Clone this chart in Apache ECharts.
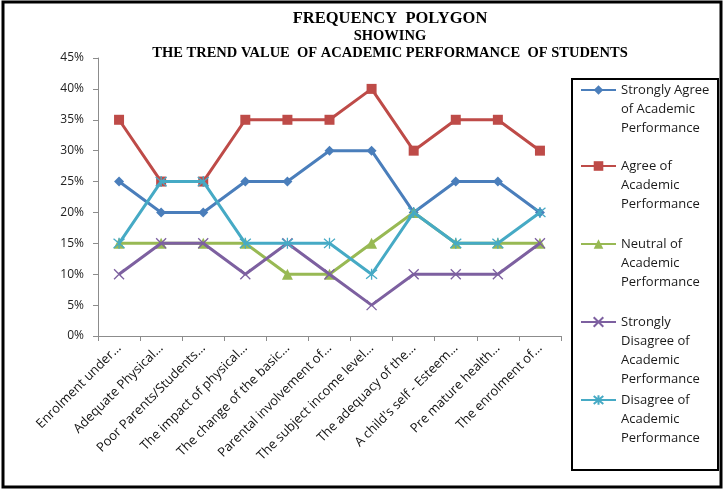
<!DOCTYPE html>
<html>
<head>
<meta charset="utf-8">
<script src="https://cdn.jsdelivr.net/npm/echarts@6/dist/echarts.min.js"></script>
<style>
  html, body { margin: 0; padding: 0; background: #fff; }
  #chart { width: 724px; height: 490px; }
</style>
</head>
<body>
<div id="chart"></div>
<script>
// Survey factors (category axis, truncated as printed)
const categories = [
  'Enrolment under…',
  'Adequate Physical…',
  'Poor Parents/Students…',
  'The impact of physical…',
  'The change of the basic…',
  'Parental involvement of…',
  'The subject income level…',
  'The adequacy of the…',
  'A child\'s self - Esteem…',
  'Pre mature health…',
  'The enrolment of…'
];

// Percentage of respondents per response level
const stronglyAgree    = [25, 20, 20, 25, 25, 30, 30, 20, 25, 25, 20];
const agree            = [35, 25, 25, 35, 35, 35, 40, 30, 35, 35, 30];
const neutral          = [15, 15, 15, 15, 10, 10, 15, 20, 15, 15, 15];
const stronglyDisagree = [10, 15, 15, 10, 15, 10,  5, 10, 10, 10, 15];
const disagree         = [15, 25, 25, 15, 15, 15, 10, 20, 15, 15, 20];

const yTicks = [0, 5, 10, 15, 20, 25, 30, 35, 40, 45];

const seriesNames = [
  'Strongly Agree of Academic Performance',
  'Agree of Academic Performance',
  'Neutral of Academic Performance',
  'Strongly Disagree of Academic Performance',
  'Disagree of Academic Performance'
];
const legendLines = [
  ['Strongly Agree', 'of Academic', 'Performance'],
  ['Agree of', 'Academic', 'Performance'],
  ['Neutral of', 'Academic', 'Performance'],
  ['Strongly', 'Disagree of', 'Academic', 'Performance'],
  ['Disagree of', 'Academic', 'Performance']
];
const seriesValues = [stronglyAgree, agree, neutral, stronglyDisagree, disagree];

const colors = ['#4A7EBB', '#BE4B48', '#98B954', '#7D60A0', '#46AAC5'];
const symbols = [
  'diamond',
  'rect',
  'triangle',
  'path://M0,0L10,10M10,0L0,10',
  'path://M0,0L10,10M10,0L0,10M5,-1L5,11'
];
const symbolSizes = [10, 10, 11, 10, 11];

const LINE_H = 19;
const legendSymbolY = [90, 166, 244, 322, 400];

// One legend per series so the marker sits on the first text line:
// blank lines are prepended so the block is centred on line one.
const legends = seriesNames.map((name, i) => {
  const n = legendLines[i].length;
  const h = (2 * n - 1) * LINE_H;
  return {
    data: [name],
    orient: 'vertical',
    left: 580,
    top: legendSymbolY[i] - h / 2,
    padding: 0,
    itemWidth: 35,
    itemHeight: 12,
    itemGap: 0,
    selectedMode: false,
    formatter: () => '\n'.repeat(n - 1) + legendLines[i].join('\n'),
    textStyle: {
      fontFamily: '"Open Sans", sans-serif',
      fontSize: 13,
      color: '#1a1a1a',
      lineHeight: LINE_H
    }
  };
});

const series = seriesNames.map((name, i) => ({
  name: name,
  type: 'line',
  data: seriesValues[i],
  symbol: symbols[i],
  symbolSize: symbolSizes[i],
  lineStyle: { width: 3, color: colors[i] },
  itemStyle: {
    color: colors[i],
    borderColor: colors[i],
    borderWidth: i >= 3 ? 1.3 : 0
  },
  z: 2 + i
}));

const chart = echarts.init(document.getElementById('chart'), null, { renderer: 'canvas' });
chart.setOption({
  animation: false,
  color: colors,
  title: {
    text: '{a|FREQUENCY  POLYGON}\n{b|SHOWING}\n{b|THE TREND VALUE  OF ACADEMIC PERFORMANCE  OF STUDENTS}',
    left: 385,
    top: 5,
    textAlign: 'center',
    textStyle: {
      fontFamily: '"Liberation Serif", "Times New Roman", serif',
      fontWeight: 'bold',
      color: '#000',
      rich: {
        a: {
          fontFamily: '"Liberation Serif", "Times New Roman", serif',
          fontWeight: 'bold', fontSize: 16.5, lineHeight: 18, color: '#000', align: 'center'
        },
        b: {
          fontFamily: '"Liberation Serif", "Times New Roman", serif',
          fontWeight: 'bold', fontSize: 14.5, lineHeight: 16.5, color: '#000', align: 'center'
        }
      }
    }
  },
  legend: legends,
  grid: { left: 98, right: 163, top: 58, bottom: 154 },
  xAxis: {
    type: 'category',
    data: categories,
    boundaryGap: true,
    axisLine: { lineStyle: { color: '#8C8C8C', width: 1 } },
    axisTick: { show: true, length: 5, lineStyle: { color: '#8C8C8C' } },
    axisLabel: {
      interval: 0,
      rotate: 45,
      margin: 10,
      fontFamily: '"Open Sans", sans-serif',
      fontSize: 13,
      color: '#111'
    },
    splitLine: { show: false }
  },
  yAxis: {
    type: 'value',
    min: yTicks[0],
    max: yTicks[yTicks.length - 1],
    interval: 5,
    axisLine: { show: true, lineStyle: { color: '#8C8C8C', width: 1 } },
    axisTick: { show: true, length: 5, lineStyle: { color: '#8C8C8C' } },
    axisLabel: {
      formatter: '{value}%',
      margin: 14,
      fontFamily: '"Open Sans", sans-serif',
      fontSize: 12,
      color: '#222'
    },
    splitLine: { show: false }
  },
  graphic: [
    {
      type: 'rect',
      shape: { x: 3, y: 2, width: 718, height: 485 },
      style: { fill: 'none', stroke: '#000', lineWidth: 3 },
      silent: true
    },
    {
      type: 'rect',
      shape: { x: 572, y: 79, width: 146, height: 391 },
      style: { fill: 'none', stroke: '#000', lineWidth: 2 },
      silent: true
    }
  ],
  series: series
});
</script>
</body>
</html>
